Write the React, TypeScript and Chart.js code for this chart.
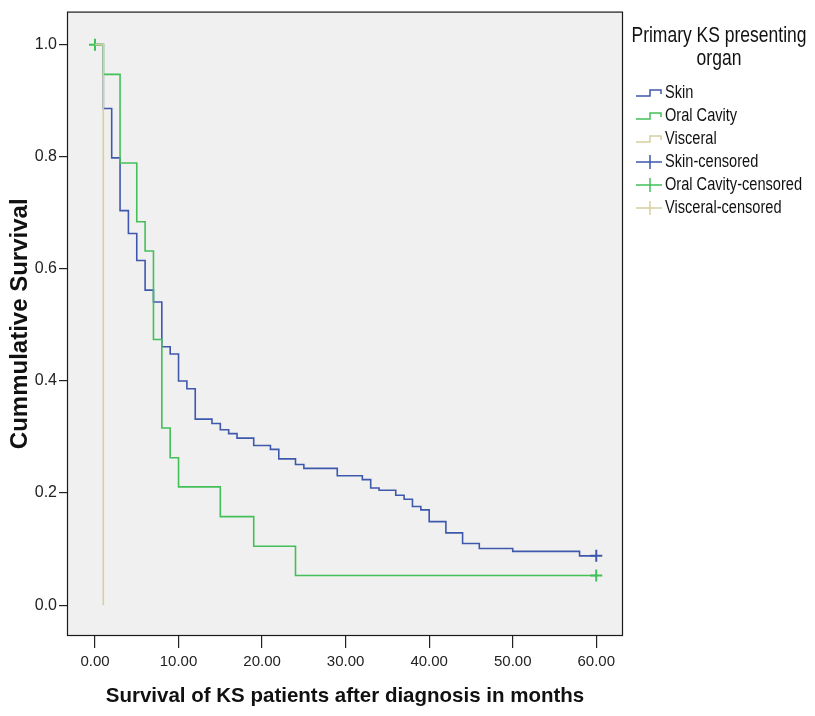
import React, { useEffect, useRef } from "react";
import { Chart, registerables } from "chart.js";

Chart.register(...registerables);

const FONT = '"Liberation Sans", Arial, sans-serif';
const STRETCH = 1.25;

// Tick values
const xTicks = [0, 10, 20, 30, 40, 50, 60];
const yTicks = [0, 0.2, 0.4, 0.6, 0.8, 1.0];

// Series names / colours
const seriesNames = ["Skin", "Oral Cavity", "Visceral"];
const seriesColors = ["#3e58ac", "#42c057", "#d6d09e"];
const legendTitle = ["Primary KS presenting", "organ"];

// Skin (Kaplan-Meier)
const skinTimes = [0, 1, 2, 3, 4, 5, 6, 7, 8, 9, 10, 11, 12, 14, 15, 16, 17, 19, 21, 22, 24, 25, 29, 32, 33, 34, 36, 37, 38, 39, 40, 42, 44, 46, 50, 58, 60];
const skinSurv = [1, 0.886, 0.798, 0.704, 0.663, 0.615, 0.562, 0.541, 0.461, 0.448, 0.4, 0.386, 0.332, 0.324, 0.313, 0.306, 0.298, 0.285, 0.278, 0.261, 0.251, 0.244, 0.231, 0.224, 0.209, 0.205, 0.196, 0.189, 0.176, 0.17, 0.149, 0.129, 0.11, 0.101, 0.096, 0.088, 0.088];

// Oral Cavity
const oralTimes = [0, 1, 3, 5, 6, 7, 8, 9, 10, 15, 19, 24, 60];
const oralSurv = [1, 0.947, 0.789, 0.684, 0.632, 0.474, 0.316, 0.263, 0.211, 0.158, 0.105, 0.053, 0.053];

// Visceral
const viscTimes = [0, 1];
const viscSurv = [1, 0];

// Censored observations
const skinCensTimes = [60];
const skinCensSurv = [0.088];
const oralCensTimes = [0, 60];
const oralCensSurv = [1, 0.053];

const toPts = (xs: number[], ys: number[]) => xs.map((x, i) => ({ x, y: ys[i] }));

const bgPlugin = {
  id: "kmBackground",
  beforeDraw(chart: any) {
    const { ctx, chartArea: a } = chart;
    ctx.save();
    ctx.fillStyle = "#ffffff";
    ctx.fillRect(0, 0, chart.width, chart.height);
    ctx.fillStyle = "#f0f0f0";
    ctx.fillRect(a.left, a.top, a.right - a.left, a.bottom - a.top);
    ctx.strokeStyle = "#1a1a1a";
    ctx.lineWidth = 1.2;
    ctx.strokeRect(a.left + 0.5, a.top + 0.5, a.right - a.left - 1, a.bottom - a.top - 1);
    ctx.restore();
  },
};

const stretchedText = (ctx: CanvasRenderingContext2D, text: string, x: number, y: number) => {
  ctx.save();
  ctx.translate(x, y);
  ctx.scale(1, STRETCH);
  ctx.fillText(text, 0, 0);
  ctx.restore();
};

const legendPlugin = {
  id: "kmLegend",
  afterDraw(chart: any) {
    const ctx = chart.ctx;
    ctx.save();
    ctx.fillStyle = "#111";
    ctx.textBaseline = "middle";
    ctx.textAlign = "center";
    ctx.font = `17.5px ${FONT}`;
    stretchedText(ctx, legendTitle[0], 719, 36);
    stretchedText(ctx, legendTitle[1], 719, 59);
    ctx.textAlign = "left";
    ctx.font = `14.6px ${FONT}`;
    const items = [
      ...seriesNames.map((n, i) => ({ label: n, color: seriesColors[i], kind: "step" })),
      ...seriesNames.map((n, i) => ({ label: n + "-censored", color: seriesColors[i], kind: "cross" })),
    ];
    items.forEach((it, i) => {
      const y = 93 + i * 23;
      ctx.strokeStyle = it.color;
      ctx.lineWidth = 1.5;
      ctx.beginPath();
      if (it.kind === "step") {
        ctx.moveTo(636, y + 3);
        ctx.lineTo(650, y + 3);
        ctx.lineTo(650, y - 3);
        ctx.lineTo(661, y - 3);
        ctx.lineTo(661, y + 1);
      } else {
        ctx.moveTo(636, y);
        ctx.lineTo(662, y);
        ctx.moveTo(650, y - 7);
        ctx.lineTo(650, y + 7);
      }
      ctx.stroke();
      stretchedText(ctx, it.label, 665, y);
    });
    ctx.restore();
  },
};

export default function App() {
  const ref = useRef<HTMLCanvasElement | null>(null);

  useEffect(() => {
    if (!ref.current) return;
    const lineDs = (label: string, data: any[], color: string) => ({
      type: "line" as const,
      label,
      data,
      borderColor: color,
      backgroundColor: color,
      borderWidth: 1.6,
      stepped: true,
      pointRadius: 0,
      fill: false,
    });
    const censDs = (label: string, data: any[], color: string) => ({
      type: "line" as const,
      label,
      data,
      showLine: false,
      borderColor: color,
      backgroundColor: color,
      pointStyle: "cross",
      pointRadius: 6,
      pointBorderWidth: 2,
      borderWidth: 2,
    });
    const chart = new Chart(ref.current, {
      type: "line",
      data: {
        datasets: [
          lineDs("Visceral", toPts(viscTimes, viscSurv), seriesColors[2]),
          lineDs("Oral Cavity", toPts(oralTimes, oralSurv), seriesColors[1]),
          lineDs("Skin", toPts(skinTimes, skinSurv), seriesColors[0]),
          censDs("Oral Cavity-censored", toPts(oralCensTimes, oralCensSurv), seriesColors[1]),
          censDs("Skin-censored", toPts(skinCensTimes, skinCensSurv), seriesColors[0]),
        ],
      },
      options: {
        responsive: false,
        animation: false,
        layout: { padding: { top: 10, right: 192, left: 0, bottom: 0 } },
        plugins: { legend: { display: false }, tooltip: { enabled: false } },
        scales: {
          x: {
            type: "linear",
            min: -3.35,
            max: 63.2,
            afterFit: (s: any) => { s.height = 80; },
            afterBuildTicks: (s: any) => { s.ticks = xTicks.map((v) => ({ value: v })); },
            border: { display: false },
            grid: { drawOnChartArea: false, drawTicks: true, tickLength: 12, tickColor: "#222", lineWidth: 1.2 },
            ticks: {
              color: "#222",
              padding: 5,
              maxRotation: 0,
              font: { family: FONT, size: 15 },
              callback: (v: any) => Number(v).toFixed(2),
            },
            title: {
              display: true,
              text: "Survival of KS patients after diagnosis in months",
              color: "#111",
              font: { family: FONT, size: 20.5, weight: "bold" },
              padding: { top: 0, bottom: 7 },
            },
          },
          y: {
            type: "linear",
            min: -0.055,
            max: 1.059,
            afterFit: (s: any) => { s.width = 67; },
            afterBuildTicks: (s: any) => { s.ticks = yTicks.map((v) => ({ value: v })); },
            border: { display: false },
            grid: { drawOnChartArea: false, drawTicks: true, tickLength: 8, tickColor: "#222", lineWidth: 1.2 },
            ticks: {
              color: "#222",
              padding: 2,
              font: { family: FONT, size: 16 },
              callback: (v: any) => Number(v).toFixed(1),
            },
            title: {
              display: true,
              text: "Cummulative Survival",
              color: "#111",
              font: { family: FONT, size: 24, weight: "bold" },
              padding: { top: 6, bottom: 0 },
            },
          },
        },
      },
      plugins: [bgPlugin, legendPlugin],
    });
    return () => chart.destroy();
  }, []);

  return (
    <div style={{ position: "fixed", left: 0, top: 0, width: 815, height: 716, background: "#fff" }}>
      <canvas ref={ref} width={815} height={716} style={{ width: 815, height: 716, display: "block" }} />
    </div>
  );
}
